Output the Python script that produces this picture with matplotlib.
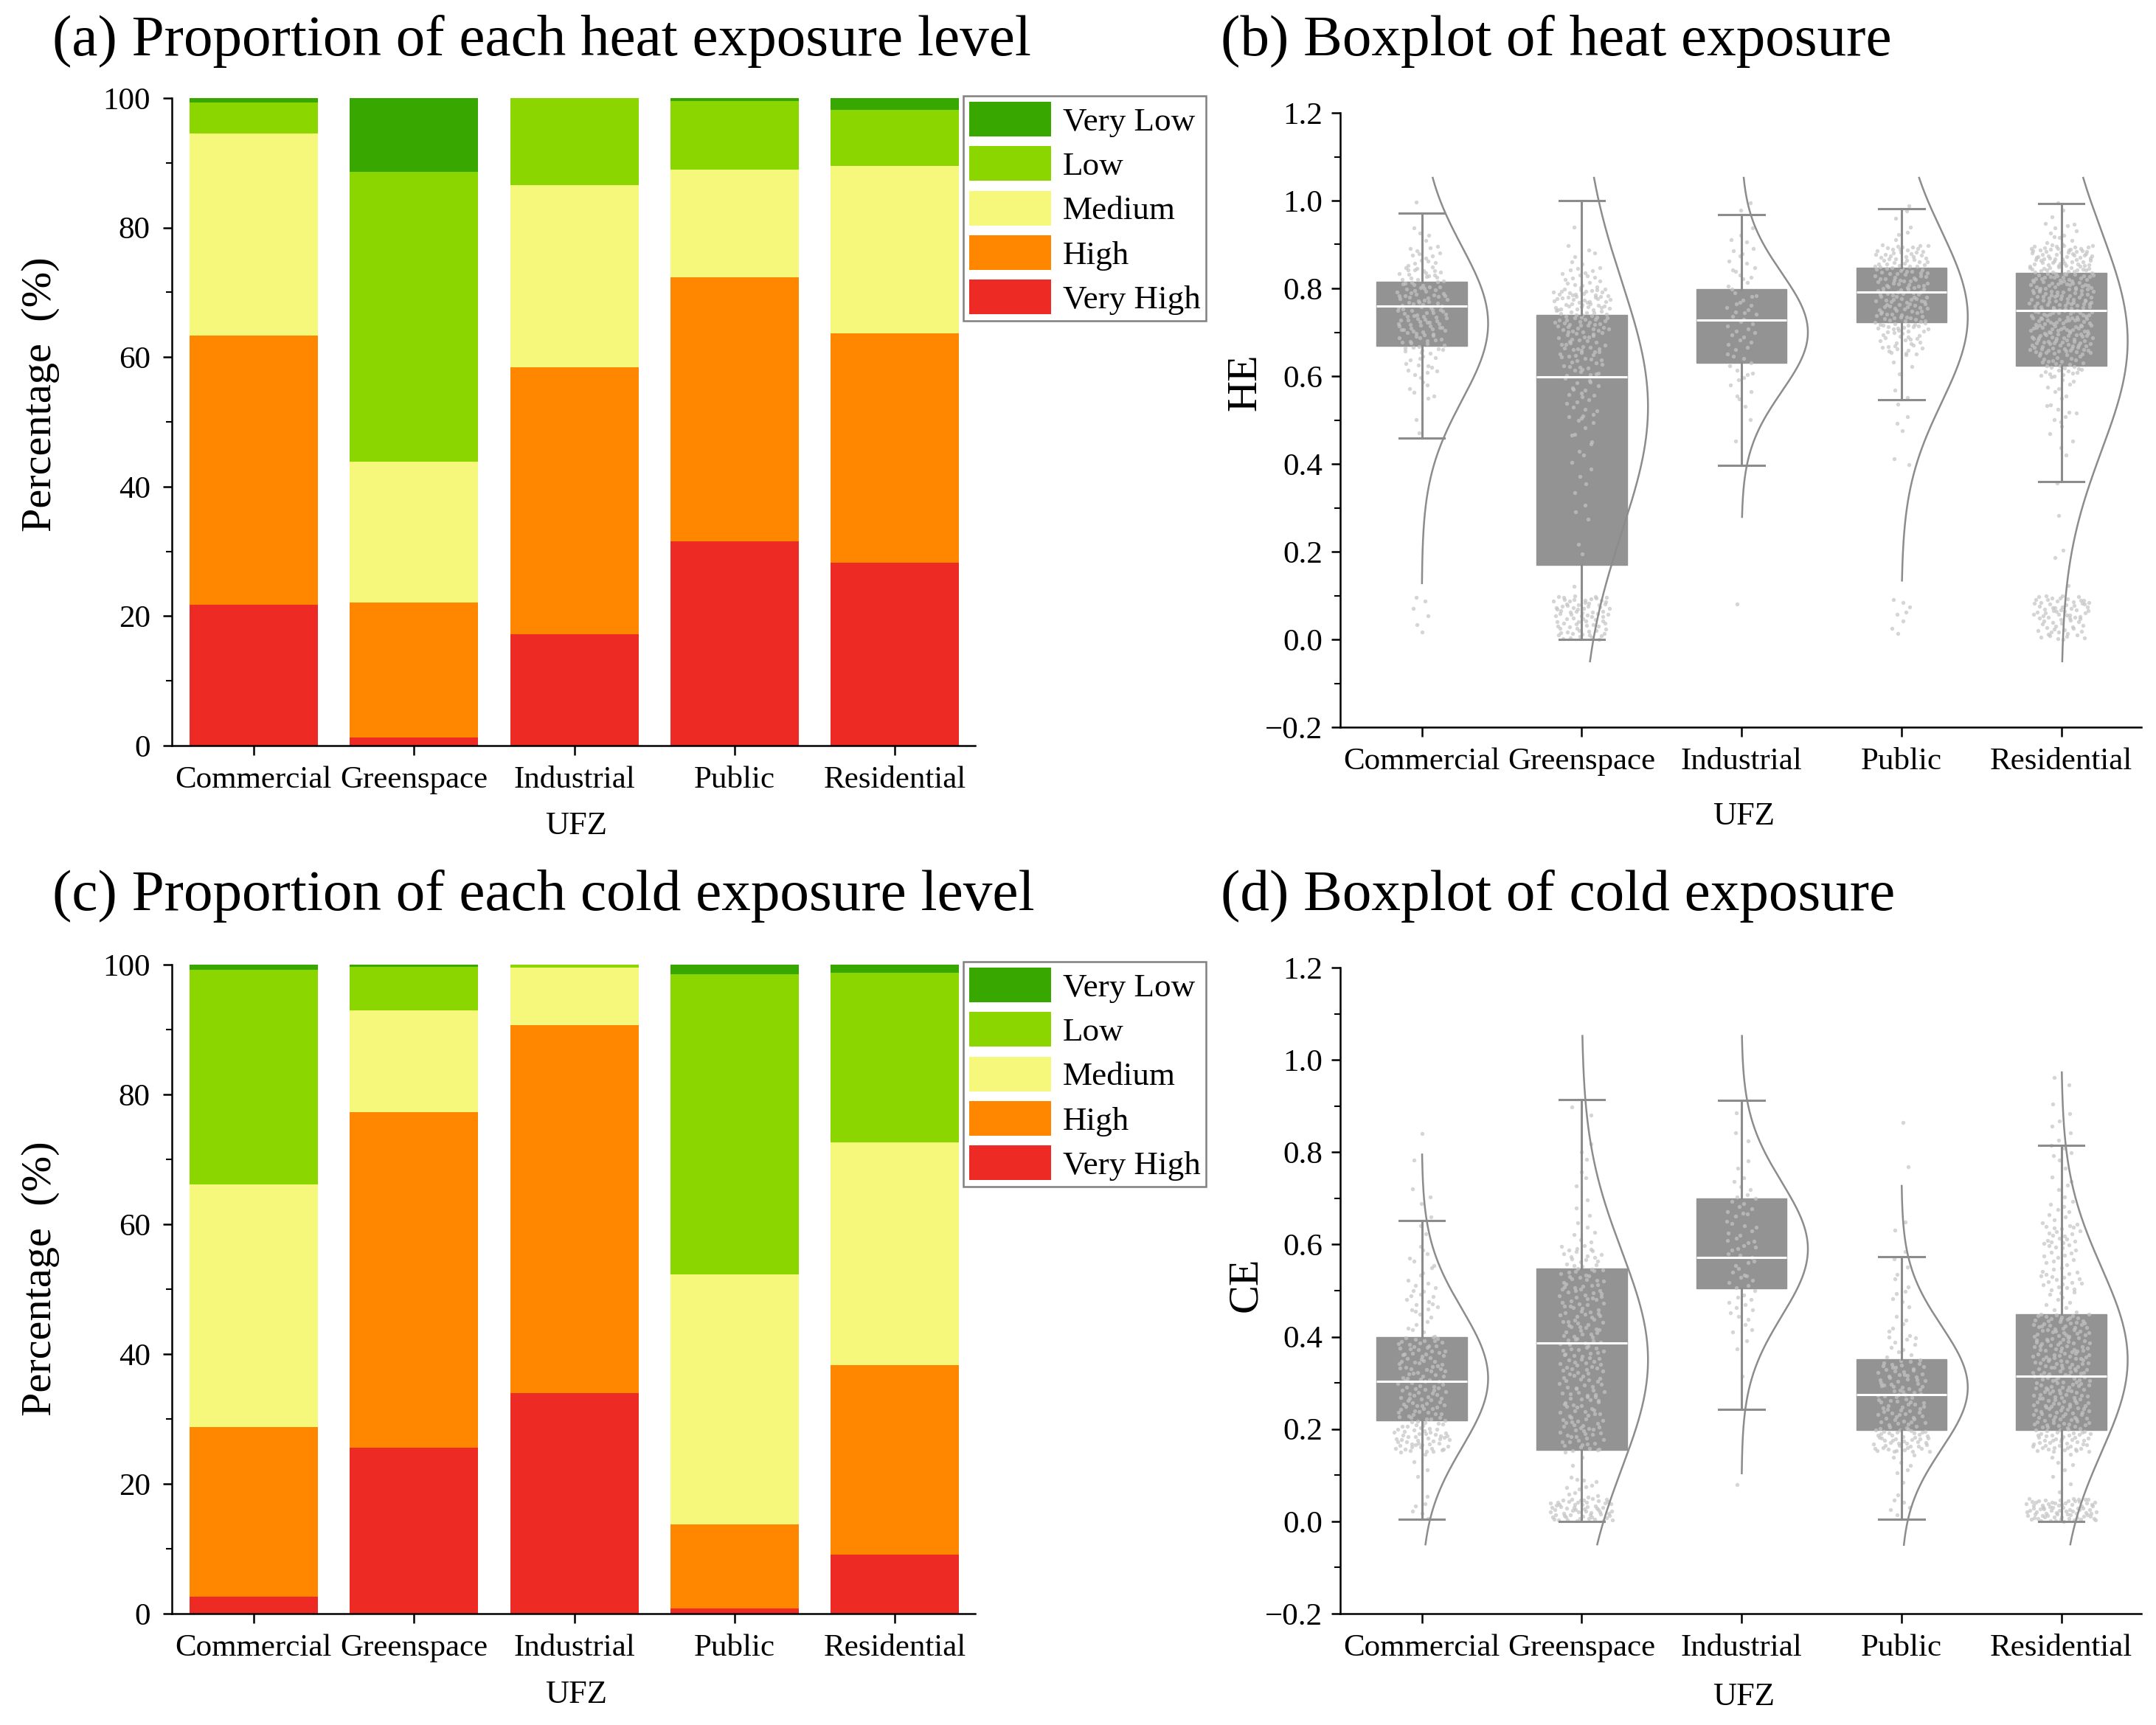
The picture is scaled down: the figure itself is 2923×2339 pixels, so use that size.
import numpy as np
import matplotlib
matplotlib.use('Agg')
import matplotlib.pyplot as plt
from matplotlib.ticker import MultipleLocator, FuncFormatter

plt.rcParams['font.family'] = ['Liberation Serif', 'DejaVu Serif']

categories = ['Commercial', 'Greenspace', 'Industrial', 'Public', 'Residential']
levels = ['Very High', 'High', 'Medium', 'Low', 'Very Low']
level_colors = ['#ee2a24', '#ff8700', '#f5f87a', '#8cd600', '#38a800']

# (a) heat exposure level shares (%)
heat_very_high = [21.8, 1.2, 17.2, 31.6, 28.3]
heat_high = [41.5, 20.9, 41.2, 40.7, 35.4]
heat_medium = [31.2, 21.8, 28.2, 16.7, 25.8]
heat_low = [4.8, 44.7, 13.4, 10.5, 8.7]
heat_very_low = [0.7, 11.4, 0.0, 0.5, 1.8]

# (c) cold exposure level shares (%)
cold_very_high = [2.6, 25.6, 34.0, 0.8, 9.1]
cold_high = [26.1, 51.7, 56.7, 12.9, 29.2]
cold_medium = [37.4, 15.6, 8.8, 38.6, 34.3]
cold_low = [33.1, 6.8, 0.5, 46.2, 26.2]
cold_very_low = [0.8, 0.3, 0.0, 1.5, 1.2]

# (b) HE box statistics
he_whislo = [0.458, 0.0, 0.396, 0.546, 0.36]
he_q1 = [0.669, 0.169, 0.63, 0.723, 0.623]
he_med = [0.76, 0.598, 0.727, 0.792, 0.75]
he_q3 = [0.815, 0.739, 0.799, 0.847, 0.835]
he_whishi = [0.972, 1.0, 0.968, 0.982, 0.994]
# fitted normal curves: mean, sd, drawn range
he_mean = [0.72, 0.53, 0.70, 0.735, 0.68]
he_sd = [0.175, 0.285, 0.135, 0.195, 0.25]
he_lo = [0.128, -0.05, 0.279, 0.134, -0.05]
he_hi = [1.052, 1.052, 1.052, 1.052, 1.052]

# (d) CE box statistics
ce_whislo = [0.004, 0.0, 0.242, 0.005, 0.0]
ce_q1 = [0.218, 0.154, 0.504, 0.198, 0.198]
ce_med = [0.303, 0.386, 0.572, 0.274, 0.315]
ce_q3 = [0.399, 0.548, 0.70, 0.351, 0.449]
ce_whishi = [0.652, 0.914, 0.913, 0.574, 0.815]
ce_mean = [0.31, 0.35, 0.59, 0.29, 0.35]
ce_sd = [0.15, 0.235, 0.145, 0.133, 0.20]
ce_lo = [-0.05, -0.05, 0.104, -0.051, -0.05]
ce_hi = [0.795, 1.052, 1.052, 0.727, 0.973]

# approximate count of dots per 0.05 bin (0.00-0.05, 0.05-0.10, ... 0.95-1.00)
dot_bins = [0.0, 0.05, 0.10, 0.15, 0.20, 0.25, 0.30, 0.35, 0.40, 0.45,
            0.50, 0.55, 0.60, 0.65, 0.70, 0.75, 0.80, 0.85, 0.90, 0.95]
he_dots_commercial = [2, 4, 0, 0, 0, 0, 0, 0, 0, 1, 2, 6, 12, 25, 35, 35, 28, 14, 4, 1]
he_dots_greenspace = [35, 45, 1, 1, 1, 2, 2, 3, 4, 6, 10, 12, 22, 28, 40, 47, 18, 6, 1, 0]
he_dots_industrial = [0, 1, 0, 0, 0, 0, 0, 0, 0, 1, 3, 5, 7, 9, 10, 10, 8, 6, 4, 2]
he_dots_public = [3, 5, 0, 0, 0, 0, 0, 1, 1, 2, 2, 2, 4, 25, 40, 40, 40, 40, 4, 3]
he_dots_residential = [30, 45, 1, 1, 1, 1, 0, 1, 2, 4, 8, 8, 30, 60, 60, 60, 60, 60, 12, 3]
ce_dots_commercial = [5, 2, 3, 45, 30, 30, 30, 30, 8, 12, 8, 6, 2, 2, 2, 1, 1, 0, 0, 0]
ce_dots_greenspace = [60, 12, 2, 25, 25, 25, 25, 25, 25, 25, 25, 20, 6, 3, 2, 2, 2, 2, 0, 0]
ce_dots_industrial = [0, 1, 0, 0, 0, 0, 1, 2, 5, 8, 10, 10, 10, 10, 6, 2, 2, 1, 0, 0]
ce_dots_public = [5, 2, 6, 48, 30, 30, 30, 10, 6, 5, 3, 3, 2, 0, 0, 1, 0, 1, 0, 0]
ce_dots_residential = [80, 3, 5, 48, 45, 45, 45, 45, 45, 10, 20, 14, 20, 8, 5, 4, 4, 3, 2, 1]

W, H = 2923, 2339
fig = plt.figure(figsize=(W / 100, H / 100), dpi=100)


def px_axes(left, top, right, bottom):
    return fig.add_axes([left / W, 1 - bottom / H, (right - left) / W, (bottom - top) / H])


def radical_inverse(k, base):
    # low-discrepancy sequence, used only to spread dots inside a bin
    f, r = 1.0, 0.0
    while k > 0:
        f /= base
        r += f * (k % base)
        k //= base
    return r


def style_axes(ax):
    for s in ['top', 'right']:
        ax.spines[s].set_visible(False)
    for s in ['left', 'bottom']:
        ax.spines[s].set_linewidth(1.8)
    ax.tick_params(which='major', direction='out', length=9, width=1.8, labelsize=31)
    ax.tick_params(which='minor', direction='out', length=5.5, width=1.5)
    ax.tick_params(axis='x', pad=11)
    ax.set_xticks(range(5))
    ax.set_xticklabels(categories)
    ax.set_xlim(-0.51, 4.5)


def draw_bars(ax, stacks, ylab_y, xlab_y):
    x = np.arange(5)
    bottom = np.zeros(5)
    for vals, color, label in zip(stacks, level_colors, levels):
        ax.bar(x, vals, width=0.8, bottom=bottom, color=color, label=label, linewidth=0)
        bottom += np.array(vals)
    style_axes(ax)
    ax.set_ylim(0, 100)
    ax.yaxis.set_major_locator(MultipleLocator(20))
    ax.yaxis.set_minor_locator(MultipleLocator(10))
    ax.tick_params(axis='y', pad=12)
    ax.set_ylabel('Percentage  (%)', fontsize=42)
    ax.yaxis.set_label_coords(-0.163, ylab_y)
    ax.yaxis.label.set_va('center')
    ax.set_xlabel('UFZ', fontsize=32)
    ax.xaxis.set_label_coords(0.503, xlab_y)
    ax.xaxis.label.set_va('center')


def add_legend(ax, top_px):
    handles, labels = ax.get_legend_handles_labels()
    leg = ax.legend(handles[::-1], labels[::-1], loc='upper left',
                    bbox_to_anchor=(1306 / W, 1 - top_px / H), bbox_transform=fig.transFigure,
                    fontsize=32.5, frameon=True, fancybox=False, framealpha=1,
                    edgecolor='#808080', borderpad=0.18, borderaxespad=0,
                    handlelength=2.45, handleheight=1.22, labelspacing=0.28, handletextpad=0.35)
    leg.get_frame().set_linewidth(1.8)


def minus_fmt(v, pos):
    return ('%.1f' % round(v, 2)).replace('-', '\u2212')


def draw_boxes(ax, whislo, q1, med, q3, whishi, means, sds, los, his, dots, ylab, ylab_y, xlab_y):
    x = np.arange(5)
    stats = [dict(whislo=a, q1=b, med=c, q3=d, whishi=e, fliers=[])
             for a, b, c, d, e in zip(whislo, q1, med, q3, whishi)]
    line_c = '#8c8c8c'
    bp = ax.bxp(stats, positions=x, widths=0.565, capwidths=0.283, patch_artist=True,
                showfliers=False, manage_ticks=False,
                boxprops=dict(facecolor='#939393', edgecolor='#939393', linewidth=1),
                whiskerprops=dict(color=line_c, linewidth=2.2),
                capprops=dict(color=line_c, linewidth=2.2),
                medianprops=dict(color='white', linewidth=2.2))
    for b in bp['boxes']:
        b.set_zorder(2)
    for ln in bp['whiskers'] + bp['caps']:
        ln.set_zorder(4)
    for ln in bp['medians']:
        ln.set_zorder(5)

    # dot cloud: counts per bin laid out as a jittered dot histogram
    step = 0.05
    for j, (c, counts) in enumerate(zip(x, dots)):
        xs, ys = [], []
        for i, n in enumerate(counts):
            if n == 0:
                continue
            half = min(0.22, 0.03 + 0.022 * np.sqrt(n))
            for k in range(n):
                idx = k + 1 + 97 * i + 13 * j
                xs.append(c + half * (2 * radical_inverse(idx, 2) - 1))
                ys.append(dot_bins[i] + radical_inverse(idx, 3) * step)
        ax.scatter(xs, ys, s=15, color='#c4c4c4', alpha=0.7, linewidths=0, zorder=3)

    # fitted normal curves on the right side of each box
    for c, mu, sd, lo, hi in zip(x, means, sds, los, his):
        yy = np.linspace(lo, hi, 300)
        xx = c + 0.415 * np.exp(-0.5 * ((yy - mu) / sd) ** 2)
        ax.plot(xx, yy, color=line_c, linewidth=1.8, zorder=4)

    style_axes(ax)
    ax.set_ylim(-0.2, 1.2)
    ax.yaxis.set_major_locator(MultipleLocator(0.2))
    ax.yaxis.set_minor_locator(MultipleLocator(0.1))
    ax.yaxis.set_major_formatter(FuncFormatter(minus_fmt))
    ax.tick_params(axis='y', pad=8)
    ax.set_ylabel(ylab, fontsize=42)
    ax.yaxis.set_label_coords(-0.118, ylab_y)
    ax.yaxis.label.set_va('center')
    ax.set_xlabel('UFZ', fontsize=32)
    ax.xaxis.set_label_coords(0.504, xlab_y)
    ax.xaxis.label.set_va('center')


ax_a = px_axes(233, 133, 1322, 1011)
draw_bars(ax_a, [heat_very_high, heat_high, heat_medium, heat_low, heat_very_low], 0.542, -0.124)
add_legend(ax_a, 130)

ax_c = px_axes(233, 1308, 1322, 2188)
draw_bars(ax_c, [cold_very_high, cold_high, cold_medium, cold_low, cold_very_low], 0.516, -0.125)
add_legend(ax_c, 1304)

ax_b = px_axes(1817, 153, 2903, 986)
draw_boxes(ax_b, he_whislo, he_q1, he_med, he_q3, he_whishi, he_mean, he_sd, he_lo, he_hi,
           [he_dots_commercial, he_dots_greenspace, he_dots_industrial, he_dots_public, he_dots_residential],
           'HE', 0.562, -0.145)

ax_d = px_axes(1817, 1312, 2903, 2188)
draw_boxes(ax_d, ce_whislo, ce_q1, ce_med, ce_q3, ce_whishi, ce_mean, ce_sd, ce_lo, ce_hi,
           [ce_dots_commercial, ce_dots_greenspace, ce_dots_industrial, ce_dots_public, ce_dots_residential],
           'CE', 0.509, -0.129)

title_kw = dict(fontsize=57, ha='left', va='center')
fig.text(71 / W, 1 - 56 / H, '(a) Proportion of each heat exposure level', **title_kw)
fig.text(1655 / W, 1 - 56 / H, '(b) Boxplot of heat exposure', **title_kw)
fig.text(71 / W, 1 - 1215 / H, '(c) Proportion of each cold exposure level', **title_kw)
fig.text(1655 / W, 1 - 1215 / H, '(d) Boxplot of cold exposure', **title_kw)

fig.savefig('out.png', dpi=100)
